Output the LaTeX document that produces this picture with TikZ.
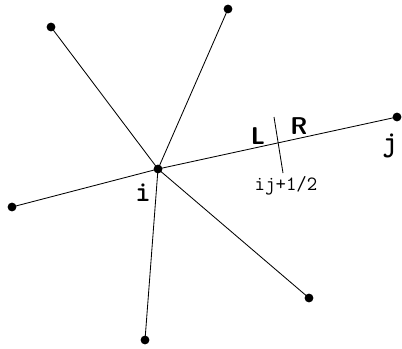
\documentclass[tikz,border=0pt]{standalone}
\usepackage{tikz}
\usetikzlibrary{positioning}
\tikzset{
  edge/.style     = {line width=0.6pt},
  vertex/.style   = {circle, fill=black, inner sep=0pt, minimum size=2.2mm},
  side/.style     = {font=\sffamily\bfseries\LARGE},
  ptlabel/.style  = {font=\ttfamily\bfseries\huge},
  facelabel/.style= {font=\ttfamily\Large},
}

\begin{document}
\begin{tikzpicture}[x=0.025cm,y=-0.025cm]
  \useasboundingbox (0,0) rectangle (402,349);

  % central point and neighbours
  \node[vertex] (i) at (158,169) {};
  \node[vertex] (n1) at (51,27) {};
  \node[vertex] (n2) at (228,9) {};
  \node[vertex] (j) at (397,117) {};
  \node[vertex] (n4) at (12,207) {};
  \node[vertex] (n5) at (145,340) {};
  \node[vertex] (n6) at (309,298) {};

  % edges
  \foreach \n in {n1,n2,j,n4,n5,n6}
    \draw[edge] (i.center) -- (\n.center);

  % interface between i and j
  \coordinate (ftop) at (274,117);
  \coordinate (fbot) at (283,173);
  \draw[edge] (ftop) -- (fbot);

  % labels
  \node[ptlabel] (ilab) at (143,193) {i};
  \node[ptlabel] (jlab) at (390,146) {j};
  \node[side] (L) at (258,136) {L};
  \node[side] (R) at (299,126) {R};
  \node[facelabel] (face) at (286,186) {ij+1/2};
\end{tikzpicture}
\end{document}
